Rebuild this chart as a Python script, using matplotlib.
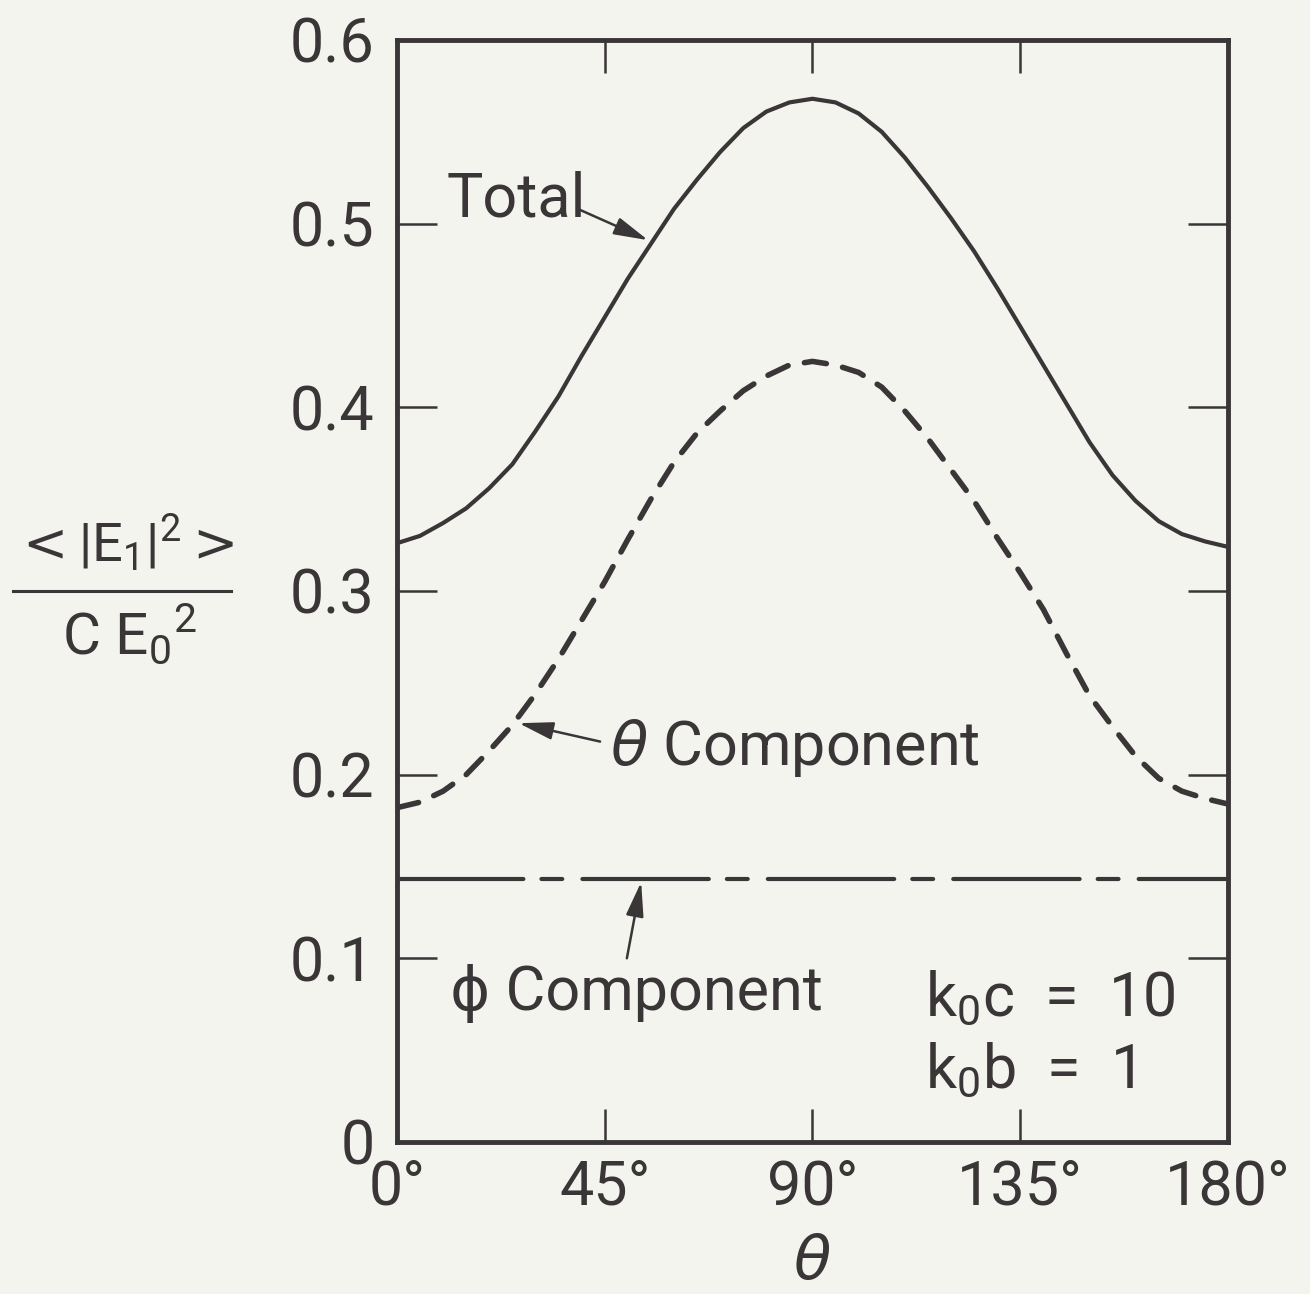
import matplotlib
matplotlib.use("Agg")
import matplotlib.pyplot as plt
import numpy as np

plt.rcParams['font.family'] = ['Roboto', 'DejaVu Sans']
plt.rcParams['mathtext.fontset'] = 'dejavusans'
plt.rcParams['lines.scale_dashes'] = False

INK = '#3a3536'
PAPER = '#f4f4ef'

# angles (deg) and curves
theta_deg = [0, 5, 10, 15, 20, 25, 30, 35, 40, 45, 50, 55, 60, 65, 70, 75, 80, 85, 90,
             95, 100, 105, 110, 115, 120, 125, 130, 135, 140, 145, 150, 155, 160, 165,
             170, 175, 180]
total = [0.326, 0.330, 0.337, 0.345, 0.356, 0.369, 0.387, 0.406, 0.428, 0.449,
         0.470, 0.489, 0.508, 0.524, 0.539, 0.552, 0.561, 0.566, 0.568,
         0.566, 0.560, 0.550, 0.536, 0.520, 0.503, 0.485, 0.465, 0.444, 0.423,
         0.402, 0.381, 0.363, 0.349, 0.338, 0.331, 0.327, 0.324]
theta_comp = [0.182, 0.185, 0.191, 0.200, 0.213, 0.227, 0.244, 0.263, 0.284, 0.305,
              0.328, 0.350, 0.370, 0.386, 0.398, 0.409, 0.417, 0.423, 0.425,
              0.423, 0.419, 0.411, 0.398, 0.383, 0.366, 0.349, 0.329, 0.310, 0.290,
              0.266, 0.243, 0.226, 0.210, 0.198, 0.191, 0.187, 0.184]
phi_deg = [0, 180]
phi_comp = [0.143, 0.143]

xticks = [0, 45, 90, 135, 180]
xtick_labels = ['0°', '45°', '90°', '135°', '180°']
yticks = [0, 0.1, 0.2, 0.3, 0.4, 0.5, 0.6]
ytick_labels = ['0', '0.1', '0.2', '0.3', '0.4', '0.5', '0.6']

fig = plt.figure(figsize=(13.1, 12.94), dpi=100, facecolor=PAPER)
ax = fig.add_axes([0.303, 0.1175, 0.6344, 0.8516], facecolor=PAPER)

ax.plot(theta_deg, total, color=INK, lw=3.0, solid_capstyle='round',
        solid_joinstyle='round')
ax.plot(theta_deg, theta_comp, color=INK, lw=4.0, dashes=(16, 12),
        dash_capstyle='round', dash_joinstyle='round')
ax.plot(phi_deg, phi_comp, color=INK, lw=3.0, dashes=(91, 13, 15, 14.5),
        dash_capstyle='round')

ax.set_xlim(0, 180)
ax.set_ylim(0, 0.6)
ax.set_xticks(xticks)
ax.set_xticklabels(xtick_labels)
ax.set_yticks(yticks)
ax.set_yticklabels(ytick_labels)

for s in ax.spines.values():
    s.set_linewidth(3.5)
    s.set_color(INK)
ax.tick_params(axis='y', direction='in', length=29, width=1.8, color=INK,
               left=True, right=True, labelsize=44, labelcolor=INK, pad=16)
ax.tick_params(axis='x', direction='in', length=24, width=1.8, color=INK,
               top=True, bottom=True, labelsize=44, labelcolor=INK, pad=12)

ax.set_xlabel(r'$\theta$', fontsize=44, color=INK, labelpad=12)

# y label as a stacked fraction
fig.text(0.094, 0.581,
         r'$<$|E$_{\mathregular{1}}$|$^{\mathregular{2}}$$>$',
         fontsize=39, color=INK, ha='center', va='center')
fig.add_artist(plt.Line2D([0.010, 0.176], [0.5435, 0.5435], color=INK, lw=2.2))
fig.text(0.099, 0.510, r'C E$_{\mathregular{0}}$$^{\mathregular{2}}$',
         fontsize=42, color=INK, ha='center', va='center')

arrow = dict(arrowstyle='-|>,head_length=0.7,head_width=0.18', color=INK,
             lw=1.8, shrinkA=0, shrinkB=0, mutation_scale=30)

ax.text(10.8, 0.513, 'Total', fontsize=44, color=INK, ha='left', va='center')
ax.annotate('', xy=(54.4, 0.491), xytext=(39.2, 0.508), arrowprops=arrow)

ax.text(46.1, 0.2145, r'$\theta$ Component', fontsize=44, color=INK,
        ha='left', va='center')
ax.annotate('', xy=(26.4, 0.228), xytext=(44.0, 0.218), arrowprops=arrow)

ax.text(11.5, 0.081, 'ϕ Component', fontsize=44, color=INK, ha='left',
        va='center')
ax.annotate('', xy=(52.9, 0.1415), xytext=(49.8, 0.100), arrowprops=arrow)

ax.text(114.4, 0.078, r'k$_{\mathregular{0}}$c  =  10', fontsize=44, color=INK,
        ha='left', va='center')
ax.text(114.4, 0.039, r'k$_{\mathregular{0}}$b  =  1', fontsize=44, color=INK,
        ha='left', va='center')

fig.savefig('out.png', dpi=100, facecolor=PAPER)
